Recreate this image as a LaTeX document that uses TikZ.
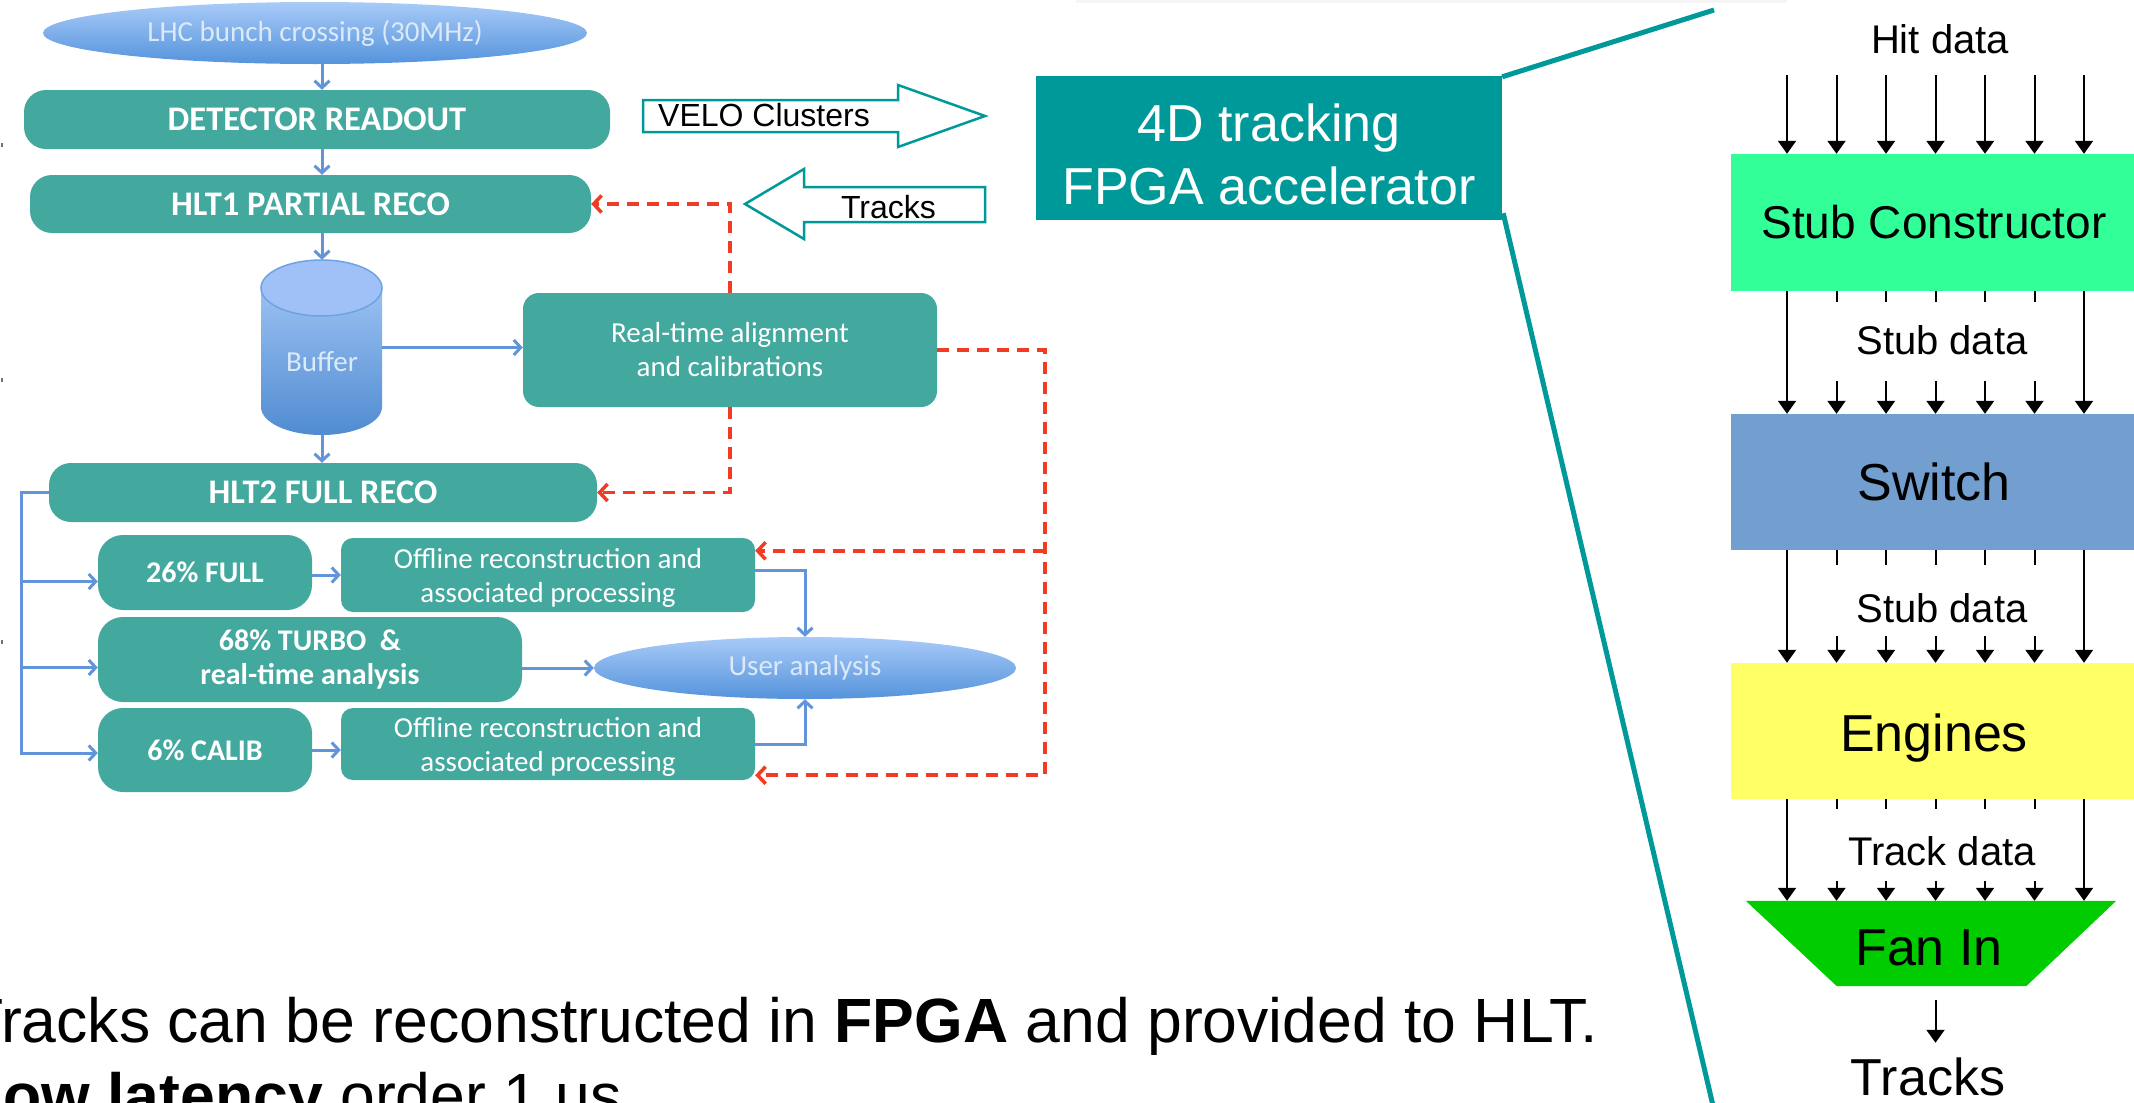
\documentclass[tikz,border=0pt]{standalone}
\usepackage{fontspec}
\setmainfont{Liberation Sans}
\newfontfamily\calfont{Carlito}
\usetikzlibrary{arrows.meta,calc,fit,shapes.geometric}
\definecolor{tealbox}{HTML}{43A89E}
\definecolor{tealacc}{HTML}{009999}
\definecolor{bline}{HTML}{6194D8}
\definecolor{rdash}{HTML}{F03C23}
\definecolor{elltop}{HTML}{A8CBF8}
\definecolor{ellbot}{HTML}{5593DC}
\definecolor{elltext}{HTML}{DCE9F8}
\definecolor{scgreen}{HTML}{33FF99}
\definecolor{swblue}{HTML}{729FCF}
\definecolor{engyellow}{HTML}{FFFF66}
\definecolor{fangreen}{HTML}{00CC00}
\newcommand\hstrut[1]{\rule{0pt}{#1pt}}
\newcommand\dstrut[1]{\rule[-#1pt]{0pt}{#1pt}}
\tikzset{
  tbox/.style={fill=tealbox, inner sep=0pt, text=white, align=center},
  capbig/.style={font=\calfont\bfseries\fontsize{34.5}{40}\selectfont},
  capmid/.style={font=\calfont\bfseries\fontsize{30}{34}\selectfont},
  calreg/.style={font=\calfont\fontsize{29}{34}\selectfont},
  ellnode/.style={ellipse, inner sep=0pt, top color=elltop, bottom color=ellbot, text=elltext},
  bconn/.style={draw=bline, line width=3pt},
  barrow/.style={bconn, -{Straight Barb[length=7pt,width=15pt]}},
  rconn/.style={draw=rdash, line width=3.5pt, dash pattern=on 12pt off 8pt},
  rarrow/.style={rconn, -{Straight Barb[length=8pt,width=17pt]}},
  bk/.style={draw=black, line width=2pt},
  bkarrow/.style={bk, -{Triangle[length=13pt,width=18pt]}},
  hvmid/.style={font=\fontsize{40}{48}\selectfont},
  hvbig/.style={font=\fontsize{52}{63}\selectfont},
  hvsmall/.style={font=\fontsize{32}{38}\selectfont},
  pbox/.style={inner sep=0pt},
  tealline/.style={draw=tealacc, line width=5pt},
  bigarrow/.style={draw=tealacc, line width=2.5pt, fill=white, line join=miter}
}
\begin{document}
\begin{tikzpicture}[x=1pt,y=-1pt]
\useasboundingbox (0,0) rectangle (2134,1103);
\fill[white] (0,0) rectangle (2134,1103);
\fill[black!4] (1076,0) rectangle (1787,3);
\fill[black!55] (1,143) rectangle (3,147);
\fill[black!55] (1,378) rectangle (3,382);
\fill[black!55] (1,640) rectangle (3,644);

% ---------------- left flow chart ----------------
\node[ellnode, minimum width=544pt, minimum height=62pt, font=\calfont\fontsize{29}{34}\selectfont] (lhc) at (315,33) {LHC bunch crossing (30MHz)};
\node[tbox, capbig, rounded corners=22pt, minimum width=586pt, minimum height=59pt] (det) at (317,119.5) {DETECTOR READOUT};
\node[tbox, capbig, rounded corners=22pt, minimum width=561pt, minimum height=58pt] (hlt1) at (310.5,204) {HLT1 PARTIAL RECO};
\node[pbox, minimum width=121pt, minimum height=175pt] (buffer) at (321.5,347.5) {};
\shade[top color=elltop, bottom color=ellbot!95!black]
  (261,288) -- (261,407) .. controls (261,422.5) and (288.1,435) .. (321.5,435)
  .. controls (354.9,435) and (382,422.5) .. (382,407) -- (382,288)
  .. controls (382,272.5) and (354.9,260) .. (321.5,260)
  .. controls (288.1,260) and (261,272.5) .. (261,288) -- cycle;
\filldraw[fill=elltop!95!blue, draw=ellbot!85, line width=1.5pt] (321.5,288) ellipse [x radius=60.5, y radius=28];
\node[calreg, text=elltext, anchor=base] (buftxt) at (322,371) {Buffer};
\node[tbox, calreg, rounded corners=16pt, minimum width=414pt, minimum height=114pt] (rt) at (730,350) {Real-time alignment\\and calibrations};
\node[tbox, capbig, rounded corners=22pt, minimum width=548pt, minimum height=59pt] (hlt2) at (323,492.5) {HLT2 FULL RECO};
\node[tbox, capmid, rounded corners=25pt, minimum width=214pt, minimum height=75pt] (full) at (205,572.5) {26\% FULL};
\node[tbox, calreg, rounded corners=12pt, minimum width=414pt, minimum height=74pt] (off1) at (548,575) {Offline reconstruction and\hstrut{26}\\associated processing};
\node[tbox, capmid, rounded corners=25pt, minimum width=424pt, minimum height=85pt] (turbo) at (310,659.5) {68\% TURBO\ \ \&\\real-time analysis};
\node[tbox, capmid, rounded corners=25pt, minimum width=214pt, minimum height=84pt] (calib) at (205,750) {6\% CALIB};
\node[tbox, calreg, rounded corners=12pt, minimum width=414pt, minimum height=72pt] (off2) at (548,744) {Offline reconstruction and\hstrut{26}\\associated processing};
\node[ellnode, calreg, minimum width=422pt, minimum height=62pt] (user) at (805,668) {User analysis};

% blue connectors
\coordinate (vx) at (322,0);
\draw[barrow] (vx |- lhc.south) -- (vx |- det.north);
\draw[barrow] (vx |- det.south) -- (vx |- hlt1.north);
\draw[barrow] (vx |- hlt1.south) -- (vx |- buffer.north);
\draw[barrow] (vx |- buffer.south) -- (vx |- hlt2.north);
\draw[barrow] (buffer.east) -- (buffer.east -| rt.west);
\coordinate (bus) at (21,0);
\coordinate (fa) at ($(full.west)+(0,9)$);
\coordinate (ta) at ($(turbo.west)+(0,8)$);
\coordinate (ca) at ($(calib.west)+(0,3)$);
\draw[barrow] (hlt2.west) -- (hlt2.west -| bus) -- (ca -| bus) -- (ca);
\draw[barrow] (fa -| bus) -- (fa);
\draw[barrow] (ta -| bus) -- (ta);
\draw[barrow] (full.east |- off1.west) -- (off1.west);
\draw[barrow] (calib.east) -- (calib.east -| off2.west);
\draw[barrow] (user.west -| turbo.east) -- (user.west);
\draw[barrow] ($(off1.east)+(0,-5)$) -| (user.north);
\draw[barrow] (off2.east) -| (user.south);

% red dashed feedback
\draw[rarrow] (rt.north) |- (hlt1.east);
\draw[rarrow] (rt.south) |- (hlt2.east);
\coordinate (rb) at (1045,0);
\coordinate (r1) at ($(off1.north east)+(0,13)$);
\coordinate (r2) at ($(off2.south east)+(0,-5)$);
\draw[rarrow] (rt.east) -| (r2 -| rb) -- (r2);
\draw[rarrow] (r1 -| rb) -- (r1);

% VELO / Tracks block arrows
\draw[bigarrow] (643,100) -- (898,100) -- (898,85) -- (985,116) -- (898,147) -- (898,132) -- (643,132) -- cycle;
\node[hvsmall, anchor=base] (velo) at (764,126) {VELO Clusters};
\draw[bigarrow] (985,187) -- (804,187) -- (804,169) -- (745,204) -- (804,239) -- (804,222) -- (985,222) -- cycle;
\node[hvsmall, anchor=base] (trk2) at (888.5,218) {Tracks};

% FPGA box
\node[pbox, fill=tealacc, text=white, hvbig, align=center, minimum width=466pt, minimum height=144pt] (fpga) at (1269,148) {4D tracking\hstrut{51}\\FPGA accelerator};
\coordinate (zt) at (1714,10);
\coordinate (zb) at (1714.5,1112);
\draw[tealline] ($(fpga.north east)+(0,1)$) -- (zt);
\draw[tealline] ($(fpga.south east)+(1,-7)$) -- (zb);

% ---------------- right pipeline ----------------
\node[pbox, fill=scgreen, font=\fontsize{46}{50}\selectfont, minimum width=406pt, minimum height=137pt] (sc) at (1934,222.5) {Stub Constructor};
\node[pbox, fill=swblue, hvbig, minimum width=406pt, minimum height=136pt] (sw) at (1934,482) {Switch};
\node[pbox, fill=engyellow, hvbig, minimum width=406pt, minimum height=136pt] (eng) at (1934,731) {Engines\hstrut{51}};
\node[pbox, minimum width=370pt, minimum height=85pt] (fan) at (1931,943.5) {};
\fill[fangreen] (fan.north west) -- (fan.north east) -- ($(fan.south east)+(-90,0)$) -- ($(fan.south west)+(91,0)$) -- cycle;
\node[hvbig, anchor=base] (fantxt) at (1929,965) {Fan In};

\node[hvmid, anchor=base] (hit) at (1940,53) {Hit data};
\node[hvmid, anchor=base] (stub1) at (1942,354) {Stub data};
\node[hvmid, anchor=base] (stub2) at (1942,622) {Stub data};
\node[hvmid, anchor=base] (trackd) at (1942,865) {Track data};
\node[hvbig, anchor=base] (tracks) at (1928,1095) {Tracks};

\foreach \i/\xx in {1/1787,2/1836.5,3/1886,4/1935.5,5/1985,6/2034.5,7/2084}
  {\coordinate (c\i) at (\xx,0);}
\coordinate (hittop) at (0,75);
\foreach \i in {1,...,7} {\draw[bkarrow] (c\i |- hittop) -- (c\i |- sc.north);}
\foreach \i in {1,7} {
  \draw[bkarrow] (c\i |- sc.south) -- (c\i |- sw.north);
  \draw[bkarrow] (c\i |- sw.south) -- (c\i |- eng.north);
  \draw[bkarrow] (c\i |- eng.south) -- (c\i |- fan.north);
}
\foreach \i in {2,...,6} {
  \draw[bk] (c\i |- sc.south) -- ++(0,11);
  \draw[bkarrow] ($(c\i |- sw.north)+(0,-33)$) -- (c\i |- sw.north);
  \draw[bk] (c\i |- sw.south) -- ++(0,15);
  \draw[bkarrow] ($(c\i |- eng.north)+(0,-27)$) -- (c\i |- eng.north);
  \draw[bk] (c\i |- eng.south) -- ++(0,10);
  \draw[bkarrow] ($(c\i |- fan.north)+(0,-20)$) -- (c\i |- fan.north);
}
\draw[bkarrow] ($(fan.south -| c4)+(0,14)$) -- ($(tracks.north -| c4)+(0,-11)$);

% ---------------- bottom text ----------------
\node[anchor=base west, inner sep=0pt, font=\fontsize{62.5}{75}\selectfont] (note1) at (-35,1042) {Tracks can be reconstructed in \textbf{FPGA} and provided to HLT.};
\node[anchor=base west, inner sep=0pt, font=\fontsize{62.5}{75}\selectfont] (note2) at (-35,1117) {\textbf{Low latency} order 1 us};
\end{tikzpicture}
\end{document}
